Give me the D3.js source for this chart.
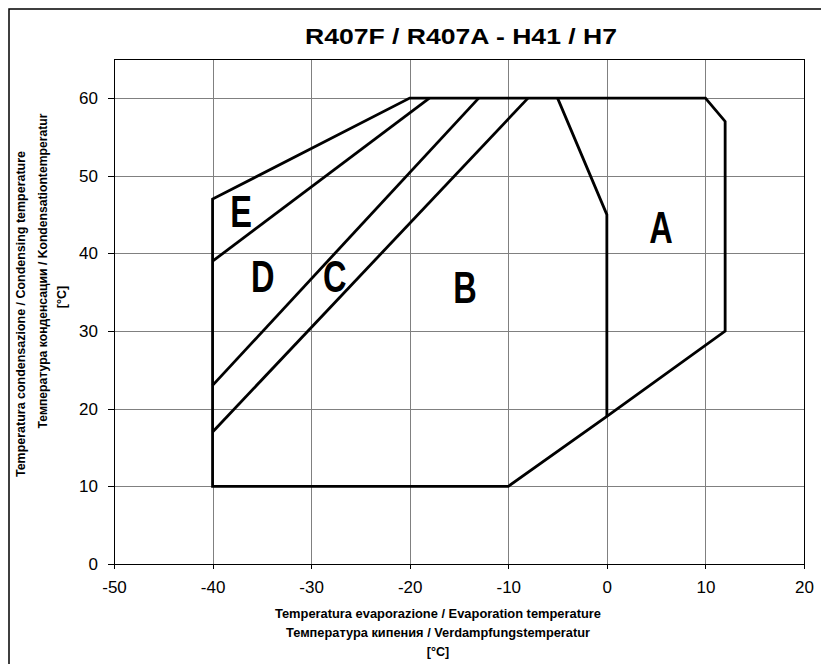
<!DOCTYPE html>
<html lang="en">
<head>
<meta charset="UTF-8">
<title>R407F / R407A - H41 / H7</title>
<style>
  body { margin: 0; background: #fff; }
  svg { display: block; font-family: "Liberation Sans", Arial, sans-serif; }
  .grid line { stroke: #808080; stroke-width: 1; shape-rendering: crispEdges; }
  .axis path, .axis line { stroke: #000; shape-rendering: crispEdges; }
  .axis text { font-size: 17px; fill: #000; }
  .env { fill: none; stroke: #000; stroke-width: 2.8; stroke-linejoin: miter; }
  .axis-title { font-size: 12.5px; font-weight: bold; }
</style>
</head>
<body>
<svg id="chart" width="821" height="664"></svg>
<script src="https://d3js.org/d3.v7.min.js"></script>
<script>
// axis ticks
const xTicks = [-50, -40, -30, -20, -10, 0, 10, 20];
const yTicks = [0, 10, 20, 30, 40, 50, 60];

// application envelope (evaporation, condensing)
const envelope = [[-40, 10], [-40, 47], [-20, 60], [10, 60], [12, 57], [12, 30], [0, 19], [-10, 10]];

// zone boundaries
const lineAB = [[-5, 60], [0, 45], [0, 19]];
const lineBC = [[-40, 17], [-8, 60]];
const lineCD = [[-40, 23], [-13, 60]];
const lineDE = [[-40, 39], [-18, 60]];

// zone letters
const zoneNames = ['A', 'B', 'C', 'D', 'E'];
const zoneX = [5.5, -14.4, -27.6, -34.9, -37.1];
const zoneY = [41.3, 33.6, 35.0, 35.0, 43.4];

const svg = d3.select('#chart');
const plotL = 114, plotR = 804, plotT = 59.3, plotB = 564;

const x = d3.scaleLinear().domain([-50, 20]).range([plotL, plotR]);
const y = d3.scaleLinear().domain([0, 65]).range([plotB, plotT]);

// outer frame
svg.append('rect')
  .attr('x', 9).attr('y', 9)
  .attr('width', 830).attr('height', 680)
  .attr('fill', 'none').attr('stroke', '#000').attr('stroke-width', 1.5);

// grid
const grid = svg.append('g').attr('class', 'grid');
grid.selectAll('.gx').data(xTicks).enter().append('line')
  .attr('x1', d => Math.round(x(d)) + 0.5).attr('x2', d => Math.round(x(d)) + 0.5)
  .attr('y1', plotT).attr('y2', plotB);
grid.selectAll('.gy').data(yTicks).enter().append('line')
  .attr('x1', plotL).attr('x2', plotR)
  .attr('y1', d => Math.round(y(d)) + 0.5).attr('y2', d => Math.round(y(d)) + 0.5);

// plot frame
svg.append('rect')
  .attr('x', plotL).attr('y', plotT)
  .attr('width', plotR - plotL).attr('height', plotB - plotT)
  .attr('fill', 'none').attr('stroke', '#000').attr('stroke-width', 1)
  .attr('shape-rendering', 'crispEdges');

// axes (plain hyphen for negatives, like the original)
const fmt = d => String(d);
svg.append('g').attr('class', 'axis')
  .attr('transform', `translate(0,${plotB})`)
  .call(d3.axisBottom(x).tickValues(xTicks).tickFormat(fmt).tickSize(5).tickPadding(12).tickSizeOuter(0))
  .call(g => g.select('.domain').remove());

svg.append('g').attr('class', 'axis')
  .attr('transform', `translate(${plotL},0)`)
  .call(d3.axisLeft(y).tickValues(yTicks).tickFormat(fmt).tickSize(6).tickPadding(10).tickSizeOuter(0))
  .call(g => g.select('.domain').remove());

// envelope and zones
const line = d3.line().x(d => x(d[0])).y(d => y(d[1]));
svg.append('path').attr('class', 'env').attr('d', line(envelope) + 'Z');
[lineAB, lineBC, lineCD, lineDE].forEach(l => {
  svg.append('path').attr('class', 'env').attr('d', line(l));
});

svg.selectAll('.zone').data(zoneNames).enter().append('text')
  .attr('class', 'zone')
  .attr('transform', (d, i) => `translate(${x(zoneX[i])},${y(zoneY[i])}) scale(0.74,1)`)
  .attr('text-anchor', 'middle')
  .attr('font-size', 44).attr('font-weight', 'bold')
  .text(d => d);

// title
svg.append('text')
  .attr('x', 461).attr('y', 44)
  .attr('text-anchor', 'middle')
  .attr('font-size', 22.5).attr('font-weight', 'bold')
  .attr('textLength', 312).attr('lengthAdjust', 'spacingAndGlyphs')
  .text('R407F / R407A - H41 / H7');

// x axis title
const xTitle = ['Temperatura evaporazione / Evaporation temperature',
  'Температура кипения / Verdampfungstemperatur', '[°C]'];
const xTitleLen = [326, 304, null];
svg.selectAll('.xt').data(xTitle).enter().append('text')
  .attr('class', 'axis-title')
  .attr('x', 438).attr('y', (d, i) => 618 + i * 19)
  .attr('text-anchor', 'middle')
  .attr('textLength', (d, i) => xTitleLen[i])
  .attr('lengthAdjust', 'spacingAndGlyphs')
  .text(d => d);

// y axis title
const yTitle = ['Temperatura condensazione / Condensing temperature',
  'Температура конденсации / Kondensationtemperatur', '[°C]'];
const yTitleX = [25, 47, 66];
const yTitleY = [314, 271, 297];
const yTitleLen = [326, 315, null];
svg.selectAll('.yt').data(yTitle).enter().append('text')
  .attr('class', 'axis-title')
  .attr('transform', (d, i) => `translate(${yTitleX[i]},${yTitleY[i]}) rotate(-90)`)
  .attr('text-anchor', 'middle')
  .attr('textLength', (d, i) => yTitleLen[i])
  .attr('lengthAdjust', 'spacingAndGlyphs')
  .text(d => d);
</script>
</body>
</html>
